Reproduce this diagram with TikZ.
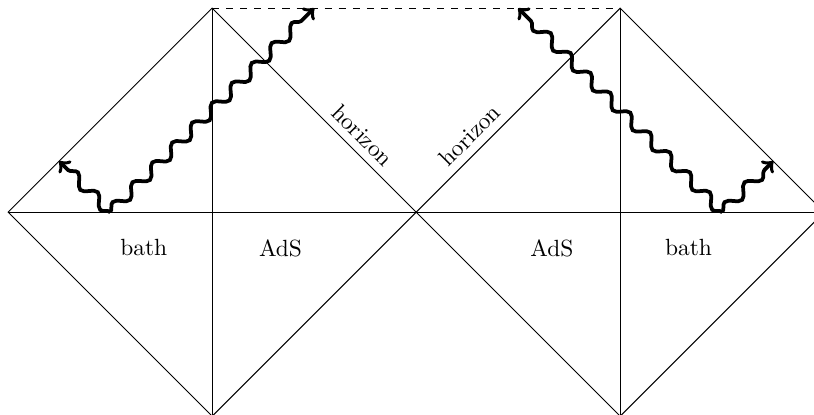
\documentclass[tikz,border=0pt]{standalone}
\usepackage{amsmath}
\usetikzlibrary{decorations.pathmorphing,positioning,calc}

\begin{document}
\begin{tikzpicture}[x=1.53cm, y=1.53cm,
        edge/.style={thin, black},
        wave/.style={->, ultra thick, decorate, decoration={snake, amplitude=2.3pt, segment length=12pt, post length=4pt}},
        label/.style={font=\normalsize}]

        \useasboundingbox (-0.08,-1.98) rectangle (7.90,2.08);

        % corners of the two diamonds
        \coordinate (W) at (0,0);
        \coordinate (TL) at (2,2);
        \coordinate (BL) at (2,-2);
        \coordinate (M) at (4,0);
        \coordinate (TR) at (6,2);
        \coordinate (BR) at (6,-2);
        \coordinate (E) at (8,0);

        \draw[edge] (W) -- (TL) -- (M) -- (BL) -- cycle;
        \draw[edge] (M) -- (TR) -- (E) -- (BR) -- cycle;
        \draw[edge] (TL) -- (BL);
        \draw[edge] (TR) -- (BR);
        \draw[edge] (W) -- (E);
        \draw[edge, dashed] (TL) -- (TR);

        \path (TL) -- (M) node[pos=0.68, sloped, above, label] {horizon};
        \path (M) -- (TR) node[pos=0.32, sloped, above, label] {horizon};

        \node[label] (bathL) at (1.33,-0.35) {bath};
        \node[label] (adsL) at (2.67,-0.35) {AdS};
        \node[label] (adsR) at (5.33,-0.35) {AdS};
        \node[label] (bathR) at (6.67,-0.35) {bath};

        % radiation
        \coordinate (srcL) at (1,0);
        \coordinate (srcR) at (7,0);
        \coordinate (hitL) at (0.5,0.5);
        \coordinate (hitR) at (7.5,0.5);
        \coordinate (endL) at (3,2);
        \coordinate (endR) at (5,2);

        \draw[wave] (srcL) -- (hitL);
        \draw[wave] (srcL) -- (endL);
        \draw[wave] (srcR) -- (hitR);
        \draw[wave] (srcR) -- (endR);

    \end{tikzpicture}
\end{document}
